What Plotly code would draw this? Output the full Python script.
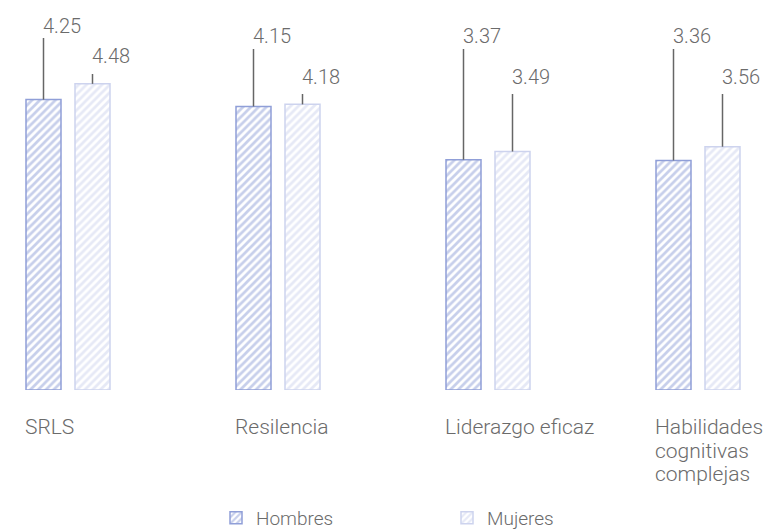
import plotly.graph_objects as go

# ---- data ----
categories = ["SRLS", "Resilencia", "Liderazgo eficaz", "Habilidades<br>cognitivas<br>complejas"]
hombres = [4.25, 4.15, 3.37, 3.36]
mujeres = [4.48, 4.18, 3.49, 3.56]
series_names = ["Hombres", "Mujeres"]

# ---- layout constants ----
W, H = 764, 529
PLOT_H = 390            # baseline pixel row
PX_PER_UNIT = 68.34
YMAX = PLOT_H / PX_PER_UNIT
CAT_PX = 210.0
FIRST_CENTER_PX = 68.0
BAR_W = 35 / CAT_PX
OFF_H = -42 / CAT_PX
OFF_M = 7 / CAT_PX
x0 = -FIRST_CENTER_PX / CAT_PX
x1 = x0 + W / CAT_PX

C_H = "#909fd8"
C_M = "#cdd3ee"
TXT = "#6b6b6b"
FONT = "Roboto"

# label placement (pixel rows): line top, text middle
lab_H = {"line": [38, 49, 49, 49], "text": [26, 36, 36, 36]}
lab_M = {"line": [74, 94, 94, 94], "text": [56, 77, 77, 77]}
CAT_TOP_PX = 413
CAT_LINE_PX = 23.5


def py2d(py):
    return (PLOT_H - py) / PX_PER_UNIT


xs = list(range(len(categories)))

fig = go.Figure()
for vals, name, off, col in ((hombres, series_names[0], OFF_H, C_H),
                             (mujeres, series_names[1], OFF_M, C_M)):
    fig.add_trace(go.Bar(
        x=xs, y=vals, name=name, width=BAR_W, offset=off,
        marker=dict(color="white", line=dict(color=col, width=1.5),
                    pattern=dict(shape="/", fgcolor=col, bgcolor="white", size=5.5, solidity=0.5)),
        hoverinfo="skip",
    ))

shapes = []
annotations = []
for vals, off, lab in ((hombres, OFF_H, lab_H), (mujeres, OFF_M, lab_M)):
    for i, v in enumerate(vals):
        cx = i + off + BAR_W / 2
        shapes.append(dict(type="line", xref="x", yref="y", x0=cx, x1=cx,
                           y0=v, y1=py2d(lab["line"][i]),
                           line=dict(color="#666666", width=1.5)))
        annotations.append(dict(x=cx, y=py2d(lab["text"][i]), xref="x", yref="y",
                                text=f"{v:.2f}", showarrow=False, xanchor="left",
                                yanchor="middle", xshift=-3,
                                font=dict(family=FONT, size=20, color=TXT, weight=300)))

for i, c in enumerate(categories):
    for j, line in enumerate(c.split("<br>")):
        py = CAT_TOP_PX + j * CAT_LINE_PX
        annotations.append(dict(x=i + OFF_H, y=(PLOT_H - py) / PLOT_H, xref="x", yref="paper",
                                text=line, showarrow=False, xanchor="left", yanchor="top",
                                align="left", xshift=-3,
                                font=dict(family=FONT, size=21, color=TXT, weight=300)))

fig.update_layout(
    width=W, height=H,
    margin=dict(l=0, r=0, t=0, b=H - PLOT_H),
    paper_bgcolor="white", plot_bgcolor="white",
    barmode="overlay",
    showlegend=True,
    legend=dict(orientation="h", x=216 / W, xanchor="left", xref="container",
                y=1 - 518 / H, yref="container", yanchor="middle",
                entrywidth=186, entrywidthmode="pixels",
                font=dict(family=FONT, size=19, color=TXT, weight=300)),
    xaxis=dict(range=[x0, x1], visible=False, fixedrange=True),
    yaxis=dict(range=[0, YMAX], visible=False, fixedrange=True),
    shapes=shapes,
    annotations=annotations,
)

fig.write_html("out.html", config={"displayModeBar": False},
               post_script="document.body.style.margin='0';")
